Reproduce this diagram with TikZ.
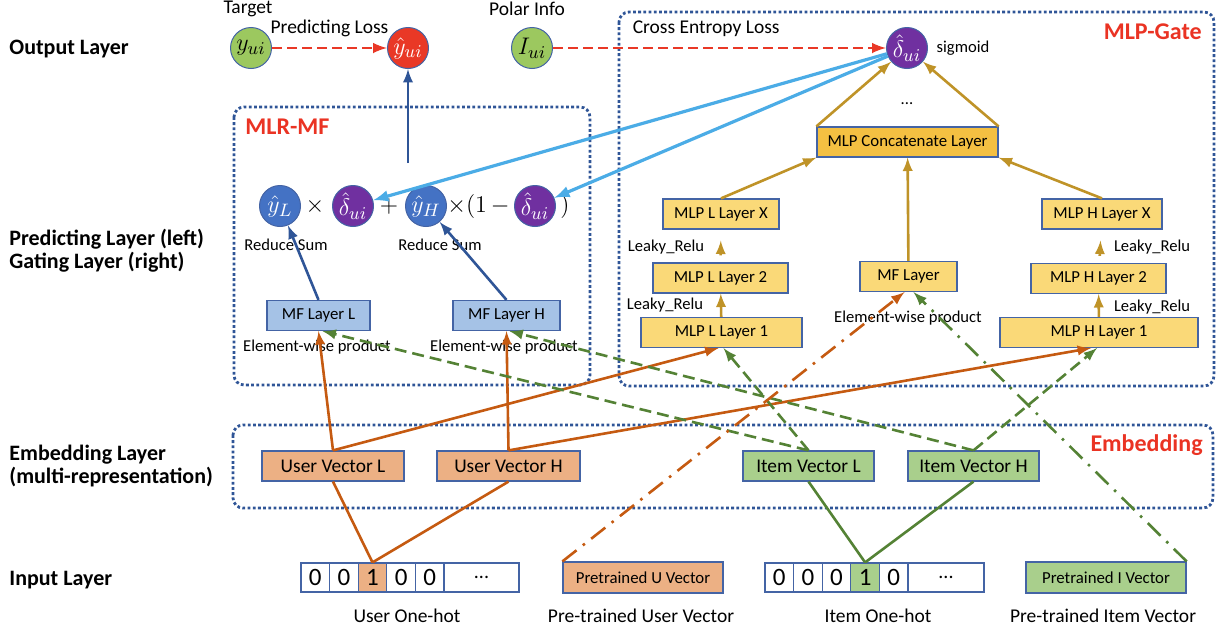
\documentclass[tikz,border=0pt]{standalone}
\usepackage{fontspec}
\setmainfont{Carlito}

\definecolor{lossred}{RGB}{233,56,38}
\definecolor{circgreen}{RGB}{156,200,95}
\definecolor{gatepurple}{RGB}{112,48,160}
\definecolor{predblue}{RGB}{68,114,196}
\definecolor{edgeblue}{RGB}{47,85,151}
\definecolor{boxedge}{RGB}{68,100,165}
\definecolor{mfblue}{RGB}{165,194,230}
\definecolor{mlpyellow}{RGB}{250,217,120}
\definecolor{concatgold}{RGB}{244,192,66}
\definecolor{userorange}{RGB}{236,176,132}
\definecolor{itemgreen}{RGB}{169,207,140}
\definecolor{userline}{RGB}{197,90,17}
\definecolor{itemline}{RGB}{84,130,53}
\definecolor{goldline}{RGB}{191,147,40}
\definecolor{cyanline}{RGB}{75,172,230}
\definecolor{titlered}{RGB}{234,51,35}

\tikzset{
  >=latex,
  rowname/.style={anchor=west, align=left, inner sep=0pt,
    font=\fontsize{11}{11.5}\selectfont\bfseries},
  region/.style={edgeblue, line width=1.4pt, dash pattern=on 1.4pt off 1.2pt,
    rounded corners=5pt},
  title/.style={inner sep=0pt, text=titlered, font=\fontsize{12}{14}\selectfont\bfseries},
  outcirc/.style={circle, draw=boxedge, line width=0.5pt, minimum size=20.5pt,
    inner sep=0pt, font=\fontsize{13}{15}\selectfont},
  oper/.style={inner sep=0pt, font=\fontsize{11.5}{14}\selectfont},
  layerbox/.style={draw=boxedge, line width=0.6pt, inner sep=0pt, minimum height=15pt,
    font=\fontsize{8.4}{10}\selectfont},
  mlpbox/.style={layerbox, fill=mlpyellow},
  mfbox/.style={layerbox, fill=mfblue},
  userbox/.style={layerbox, fill=userorange, font=\fontsize{9.7}{11}\selectfont},
  itembox/.style={userbox, fill=itemgreen},
  bit/.style={draw=boxedge, line width=0.6pt, minimum width=14.3pt, minimum height=14.5pt,
    inner sep=0pt, font=\fontsize{12.5}{14}\selectfont},
  note/.style={inner sep=0pt, text=black, font=\fontsize{8.3}{10}\selectfont},
  caption/.style={inner sep=0pt, text=black, font=\fontsize{9.75}{11}\selectfont},
  lossarrow/.style={->, lossred, line width=1.4pt, dash pattern=on 5pt off 2.5pt},
  predarrow/.style={->, edgeblue, line width=1.3pt},
  gatearrow/.style={->, cyanline, line width=1.6pt},
  mlparrow/.style={->, goldline, line width=1.3pt},
  userarrow/.style={->, userline, line width=1.3pt},
  itemarrow/.style={->, itemline, line width=1.3pt, dash pattern=on 6pt off 3pt},
  userlink/.style={userline, line width=1.3pt},
  itemlink/.style={itemline, line width=1.3pt},
  pretrained/.style={->, line width=1.3pt, dash pattern=on 9pt off 4pt on 1.3pt off 4pt},
}

\begin{document}
\begin{tikzpicture}[x=0.5pt,y=-0.5pt]
  \useasboundingbox (0,0) rectangle (1225,632);

  % layer names
  \node[rowname] (outrow)  at (9,49)  {Output Layer};
  \node[rowname] (predrow) at (9,251) {Predicting Layer (left)\\Gating Layer (right)};
  \node[rowname] (embrow)  at (9,466) {Embedding Layer\\(multi-representation)};
  \node[rowname] (inrow)   at (9,580) {Input Layer};

  % dotted regions
  \draw[region] (234,107) rectangle (590,385);
  \draw[region] (619,12) rectangle (1214,386);
  \draw[region] (233,425) rectangle (1213,508);
  \node[title, anchor=west] (mlrtitle)  at (245,127)  {MLR-MF};
  \node[title, anchor=east] (gatetitle) at (1202,32)  {MLP-Gate};
  \node[title, anchor=east] (embtitle)  at (1203,445) {Embedding};

  % output layer
  \node[caption] (target) at (248,9) {Target};
  \node[caption] (polar)  at (527,9) {Polar Info};
  \node[outcirc, fill=circgreen]  (yui)    at (251,48) {$y_{ui}$};
  \node[outcirc, fill=lossred, text=white] (yhatui) at (408,48) {$\hat{y}_{ui}$};
  \node[outcirc, fill=circgreen]  (iui)    at (532,48) {$I_{ui}$};
  \node[outcirc, fill=gatepurple, text=white] (delta) at (907,48) {$\hat{\delta}_{ui}$};
  \node[note] (sigm) at (963,48) {sigmoid};
  \draw[lossarrow] (yui) -- (yhatui)
    node (ploss) [caption, midway, above=5pt] {Predicting Loss};
  \draw[lossarrow] (iui) -- (delta)
    node (celoss) [caption, pos=0.46, above=5pt] {Cross Entropy Loss};

  % MLR-MF
  \node[outcirc, fill=predblue, text=white]   (yl) at (280,206) {$\hat{y}_L$};
  \node[outcirc, fill=gatepurple, text=white] (d1) at (353,206) {$\hat{\delta}_{ui}$};
  \node[outcirc, fill=predblue, text=white]   (yh) at (426,206) {$\hat{y}_H$};
  \node[outcirc, fill=gatepurple, text=white] (d2) at (535,206) {$\hat{\delta}_{ui}$};
  \node[oper] (times) at (315,206) {$\times$};
  \node[oper] (plus)  at (389,206) {$+$};
  \node[oper, anchor=east] (oneminus) at (510,206) {$\times(1\,-$};
  \node[oper] (close) at (565,206) {$)$};
  \node[note] (sumL) at (286,245) {Reduce Sum};
  \node[note] (sumH) at (440,245) {Reduce Sum};
  \node[mfbox, minimum width=51.5pt] (mfl) at (318.5,315.5) {MF Layer L};
  \node[mfbox, minimum width=53.5pt] (mfh) at (506.5,315.5) {MF Layer H};
  \node[note] (ewL) at (317,347) {Element-wise product};
  \node[note] (ewH) at (504,347) {Element-wise product};
  \coordinate (sumtop) at (408,163);
  \draw[predarrow] (sumtop) -- (yhatui);
  \draw[predarrow] (mfl.north) -- (yl);
  \draw[predarrow] (mfh.north) -- (yh);

  % MLP-Gate
  \node[layerbox, fill=concatgold, minimum width=90.5pt] (concat) at (907.5,142) {MLP Concatenate Layer};
  \node[note] (dots) at (907,104) {...};
  \node[mlpbox, minimum width=58pt]   (lx) at (721,214)    {MLP L Layer X};
  \node[mlpbox, minimum width=67.5pt] (l2) at (720.5,278)  {MLP L Layer 2};
  \node[mlpbox, minimum width=80.5pt] (l1) at (721.5,332.5) {MLP L Layer 1};
  \node[mlpbox, minimum width=60pt]   (hx) at (1102,214)   {MLP H Layer X};
  \node[mlpbox, minimum width=67.5pt] (h2) at (1098.5,278.5) {MLP H Layer 2};
  \node[mlpbox, minimum width=99pt]   (h1) at (1099,332.5) {MLP H Layer 1};
  \node[mlpbox, minimum width=48.5pt] (mf) at (908.5,276.5) {MF Layer};
  \node[note] (ewM) at (908,318) {Element-wise product};
  \node[note] (reluL2) at (666,247)  {Leaky\_Relu};
  \node[note] (reluL1) at (665,305)  {Leaky\_Relu};
  \node[note] (reluH2) at (1152,247) {Leaky\_Relu};
  \node[note] (reluH1) at (1152,307) {Leaky\_Relu};
  \draw[mlparrow] (concat.north west) -- (delta);
  \draw[mlparrow] (concat.north east) -- (delta);
  \draw[mlparrow] (mf) -- (concat);
  \draw[mlparrow] (lx.north) -- (concat.south west);
  \draw[mlparrow] (hx.north) -- (concat.south east);
  \draw[mlparrow] (l1) -- (l2);
  \draw[mlparrow, shorten <=3.5pt, shorten >=5.5pt] (l2) -- (lx);
  \draw[mlparrow] (h1) -- (h2);
  \draw[mlparrow, shorten <=3.5pt, shorten >=5.5pt] (h2) -- (hx);
  \draw[gatearrow] (delta) -- (d1);
  \draw[gatearrow] (delta) -- (d2);

  % embedding
  \node[userbox, minimum width=71pt]   (uvl) at (333,466)   {User Vector L};
  \node[userbox, minimum width=71.5pt] (uvh) at (508.5,466) {User Vector H};
  \node[itembox, minimum width=65.5pt] (ivl) at (808.5,466) {Item Vector L};
  \node[itembox, minimum width=65.5pt] (ivh) at (973.5,466) {Item Vector H};

  % input layer
  \node[bit] (u1) at (315.3,577.5) {0};
  \node[bit] (u2) at (343.9,577.5) {0};
  \node[bit, fill=userorange] (u3) at (372.5,577.5) {1};
  \node[bit] (u4) at (401.1,577.5) {0};
  \node[bit] (u5) at (429.7,577.5) {0};
  \node[bit, minimum width=37.5pt, font=\fontsize{10}{12}\selectfont] (uend) at (481.5,577.5) {...};
  \node[bit] (i1) at (779.3,577.5) {0};
  \node[bit] (i2) at (807.9,577.5) {0};
  \node[bit] (i3) at (836.5,577.5) {0};
  \node[bit, fill=itemgreen] (i4) at (865.1,577.5) {1};
  \node[bit] (i5) at (893.7,577.5) {0};
  \node[bit, minimum width=38pt, font=\fontsize{10}{12}\selectfont] (iend) at (946,577.5) {...};
  \node[userbox, minimum width=80pt, minimum height=15.5pt, font=\fontsize{8.4}{10}\selectfont]
    (pu) at (643,577.5) {Pretrained U Vector};
  \node[itembox, minimum width=80pt, minimum height=15.5pt, font=\fontsize{8.4}{10}\selectfont]
    (pi) at (1106,577.5) {Pretrained I Vector};
  \node[caption] (uhot)  at (407,616)  {User One-hot};
  \node[caption] (upre)  at (641,616)  {Pre-trained User Vector};
  \node[caption] (ihot)  at (878,616)  {Item One-hot};
  \node[caption] (ipre)  at (1103,616) {Pre-trained Item Vector};

  % one-hot to embeddings
  \draw[userlink] (u3.north) -- (uvl.south);
  \draw[userlink] (u3.north) -- (uvh.south);
  \draw[itemlink] (i4.north) -- (ivl.south);
  \draw[itemlink] (i4.north) -- (ivh.south);

  % embeddings to upper layers
  \draw[userarrow] (uvl.north) -- (mfl.south);
  \draw[userarrow] (uvl.north) -- ([xshift=-1.5pt]l1.south);
  \draw[userarrow] (uvh.north) -- (mfh.south);
  \draw[userarrow] (uvh.north) -- ([xshift=-4pt]h1.south);
  \draw[itemarrow] (ivl.north) -- ([xshift=2pt]mfl.south);
  \draw[itemarrow] (ivl.north) -- ([xshift=1pt]l1.south);
  \draw[itemarrow] (ivh.north) -- ([xshift=1.5pt]mfh.south);
  \draw[itemarrow] (ivh.north) -- ([xshift=-1pt]h1.south);

  % pre-trained vectors
  \draw[pretrained, userline] (pu.north west) -- ([xshift=-2pt]mf.south);
  \draw[pretrained, itemline] (pi.north east) -- ([xshift=2.5pt]mf.south);
\end{tikzpicture}
\end{document}
